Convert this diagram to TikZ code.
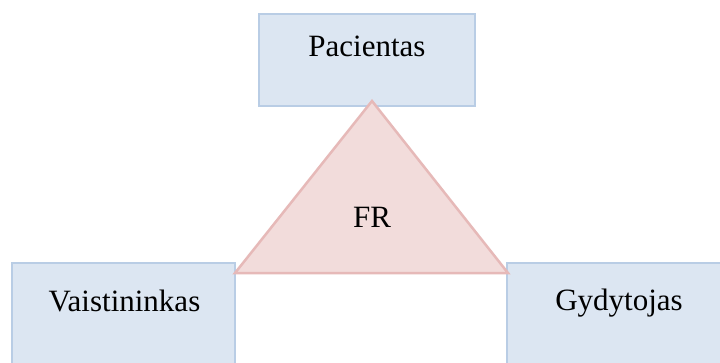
\documentclass[tikz,border=0pt]{standalone}
\usepackage{fontspec}
\setmainfont{Liberation Serif}
\definecolor{boxfill}{HTML}{DCE6F2}
\definecolor{boxline}{HTML}{B9CDE5}
\definecolor{trifill}{HTML}{F2DCDB}
\definecolor{triline}{HTML}{E6B9B8}
\tikzset{
  rolebox/.style={draw=boxline, fill=boxfill, line width=2.5pt},
  tri/.style={draw=triline, fill=trifill, line width=2.5pt, line join=miter},
  lbl/.style={anchor=base, inner sep=0pt, font=\fontsize{31}{36}\selectfont}
}
\begin{document}
\begin{tikzpicture}[x=1pt,y=-1pt]
\useasboundingbox (0,0) rectangle (720,362);
\clip (0,0) rectangle (720,362);
\fill[white] (0,0) rectangle (720,362);
% boxes
\draw[rolebox] (259,14) rectangle (475,106);
\draw[rolebox] (12,263) rectangle (235,375);
\draw[rolebox] (507,263) rectangle (735,375);
% triangle
\coordinate (apex) at (372,101);
\coordinate (bl) at (235,273);
\coordinate (br) at (508,273);
\draw[tri] (apex) -- (bl) -- (br) -- cycle;
% labels
\node[lbl] (pac) at (367,56) {Pacientas};
\node[lbl] (vai) at (124.5,311) {Vaistininkas};
\node[lbl] (gyd) at (619,310) {Gydytojas};
\node[lbl] (fr) at (372,227) {FR};
\end{tikzpicture}
\end{document}
